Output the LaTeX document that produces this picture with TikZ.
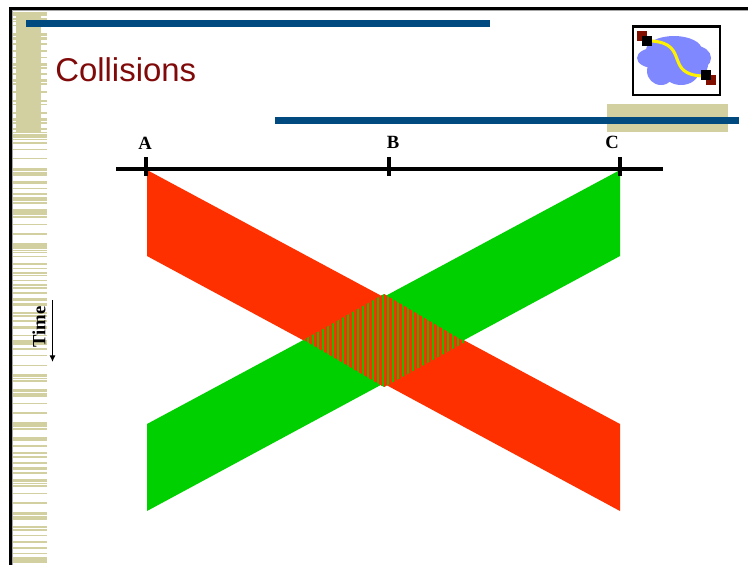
\documentclass[tikz,border=0pt]{standalone}
\usepackage{fontspec}
\usetikzlibrary{arrows.meta}
\setmainfont{Liberation Serif}
\newfontfamily\titlefont{Liberation Sans}
\definecolor{tan}{HTML}{D2D0A0}
\definecolor{navy}{HTML}{004A80}
\definecolor{redband}{HTML}{FF3000}
\definecolor{greenband}{HTML}{00D000}
\definecolor{titlered}{HTML}{800A0A}
\definecolor{cloudblue}{HTML}{8088FF}
\definecolor{sqred}{HTML}{800F00}
\tikzset{
  px/.style={x=0.75pt,y=-0.75pt},
  lab/.style={font=\bfseries\fontsize{14}{14}\selectfont,inner sep=0pt},
  axisline/.style={line width=3.1pt,black},
  tick/.style={line width=2.6pt,black},
}
\begin{document}
\begin{tikzpicture}[px]
\useasboundingbox (0,0) rectangle (748,565);
\fill[white] (0,0) rectangle (748,565);
% stripes
\foreach \y/\h in {12/1.5,14/2,18/2,21/1,25/1,33/2.5,37/2.5,43/2,50/1.5,57/1,63/2.5,67/1.5,73/1.5,79/2.5,83/1.5,91/1.5,100/2,104/1,112/1.5,118/2.5,122/2,128/1.5,132/1,
  134.5/3,139/1,142/1.5,149/1,158/1,168.5/2,172/1.5,174.5/1.5,181/3,188/1,193.5/1,197.5/3,202/1.5,209/3.5,213.5/1.5,216.5/1,224/1,233.5/1,
  243.5/3,247.5/1,250/1,252/1,256/1,263.5/1,268/1,272/1.5,275/1,280/1,284/1.5,287.5/1,292/2,298/3,303.5/2,312/1.5,315.5/1,320.5/1,326/3,335/1,340.5/4,348.5/1,355/1,365/1,
  374.5/2.5,378/1,380/1.5,389.5/2.5,393.5/1,395.5/1.5,403/1,412.5/1,422.5/2,425.5/1,428/2,437/1.5,439.5/1.5,445.5/1,452/2,456/1.5,
  462.5/1,467/3,472/1.5,479/3,483/1,485.5/1,493/1,502.5/1.5,512.5/2.5,516/1.5,518.5/1.5,526.5/1.5,529.5/1.5,535/1,541/2,547.5/1.5,553/1,557/3.5,561.5/1.5}
  {\fill[tan] (12,\y-0.2) rectangle (47,\y+\h+0.4);}
% frame
\fill[black!35] (11,9.5) rectangle (748,10.5);
\fill[black!35] (11.5,9) rectangle (12.5,565);
\fill[black] (9,6.8) rectangle (748,9.5);
\fill[black] (8.8,6.8) rectangle (11.6,565);
% header bars
\fill[tan] (16,12) rectangle (41,133);
\fill[tan] (607,104) rectangle (728,132);
\fill[navy] (26,20) rectangle (490,27);
\fill[navy] (275,117) rectangle (739,124);
\node[anchor=base west,inner sep=0pt,text=titlered,font=\titlefont\fontsize{24.7}{25}\selectfont] (title) at (55,81) {Collisions};
% icon
\fill[white] (633,26) rectangle (720,95);
\draw[line width=2pt,black] (633,26.5) rectangle (720,95);
\begin{scope}[cloudblue]
\fill (674,50) ellipse [x radius=28,y radius=14];
\fill (654,58) ellipse [x radius=17,y radius=10];
\fill (696,58) ellipse [x radius=15,y radius=12];
\fill (661,71) ellipse [x radius=14,y radius=14];
\fill (681,71) ellipse [x radius=18,y radius=14];
\fill (693,66) ellipse [x radius=15,y radius=10];
\end{scope}
\fill[sqred] (637,31) rectangle (647,41);
\fill[sqred] (706,75) rectangle (716,85);
\draw[line width=2.3pt,yellow] (652,41) .. controls (690,44) and (664,74) .. (702,76);
\fill[black] (642,36) rectangle (652,46);
\fill[black] (701,70) rectangle (711,80);
% bands
\fill[redband] (147,170) -- (620,424) -- (620,511) -- (147,256) -- cycle;
\fill[greenband] (620,170) -- (147,424) -- (147,511) -- (620,256) -- cycle;
\begin{scope}
\clip (384,294) -- (465,342) -- (384,387) -- (304,340) -- cycle;
\fill[greenband!85!redband] (304,294) rectangle (465,387);
\foreach \i in {0,...,32} {\fill[redband] (304+5*\i,294) rectangle (306.5+5*\i,387);}
\end{scope}
% axis
\coordinate (axisL) at (116,169);
\coordinate (axisR) at (663,169);
\draw[axisline] (axisL) -- (axisR);
\foreach \x in {146,389,620} {\draw[tick] (\x,157) -- (\x,176);}
\node[lab] (labA) at (145,143) {A};
\node[lab] (labB) at (393,142) {B};
\node[lab] (labC) at (612,142) {C};
% time
\node[lab,rotate=90] (timelab) at (39,327) {Time};
\coordinate (t0) at (52.5,300);
\coordinate (t1) at (52.5,362);
\draw[line width=0.9pt,-{Latex[length=5pt,width=4.6pt]}] (t0) -- (t1);
\end{tikzpicture}
\end{document}
